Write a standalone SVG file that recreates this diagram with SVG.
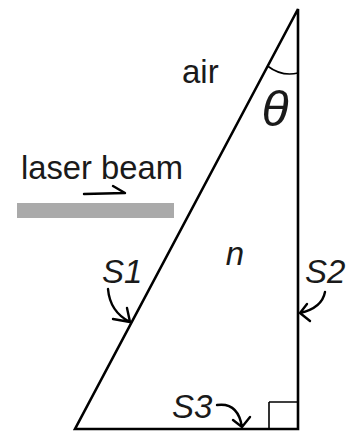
<svg xmlns="http://www.w3.org/2000/svg" width="357" height="433" viewBox="0 0 357 433">
<style>
.line{fill:none;stroke:#000;stroke-width:2.6;stroke-linecap:round;stroke-linejoin:miter}
.thin{fill:none;stroke:#000;stroke-width:1.6}
.arr{fill:none;stroke:#000;stroke-width:2.4;stroke-linecap:round;stroke-linejoin:round}
.lbl{font-family:"Liberation Sans",Arial,sans-serif;font-size:33px;fill:#1a1a1a}
.it{font-style:italic}
</style>
<rect width="357" height="433" fill="#fff"/>
<g id="prism">
<path class="line" d="M298,9 L298,429 L75,429 Z"/>
<path class="thin" d="M269,402 L298,402 M269,402 L269,429"/>
<path class="thin" d="M267.5,66 Q282,77 298,73"/>
<text class="lbl it" x="275" y="126" text-anchor="middle" style="font-size:50px">θ</text>
<text class="lbl it" x="235" y="265" text-anchor="middle">n</text>
</g>
<g id="air"><text class="lbl" x="182" y="83">air</text></g>
<g id="laser">
<text class="lbl" x="21" y="179" textLength="162" lengthAdjust="spacingAndGlyphs">laser beam</text>
<rect x="17" y="203" width="157" height="15" fill="#aaaaaa"/>
</g>
<g id="labels">
<text class="lbl it" x="102" y="283">S1</text>
<text class="lbl it" x="305" y="283">S2</text>
<text class="lbl it" x="172" y="418">S3</text>
</g>
<g id="connectors">
<path class="arr" d="M84,194 L125,193 L113,186"/>
<path class="arr" d="M108,289 Q110,312 130,322 M113,319 L130,322 L127,308"/>
<path class="arr" d="M325,292 Q322,308 300,313 M307,304 L300,313 L310,321"/>
<path class="arr" d="M217,405 Q238,402 242,427 M233,420 L242,427 L250,417"/>
</g>
</svg>
